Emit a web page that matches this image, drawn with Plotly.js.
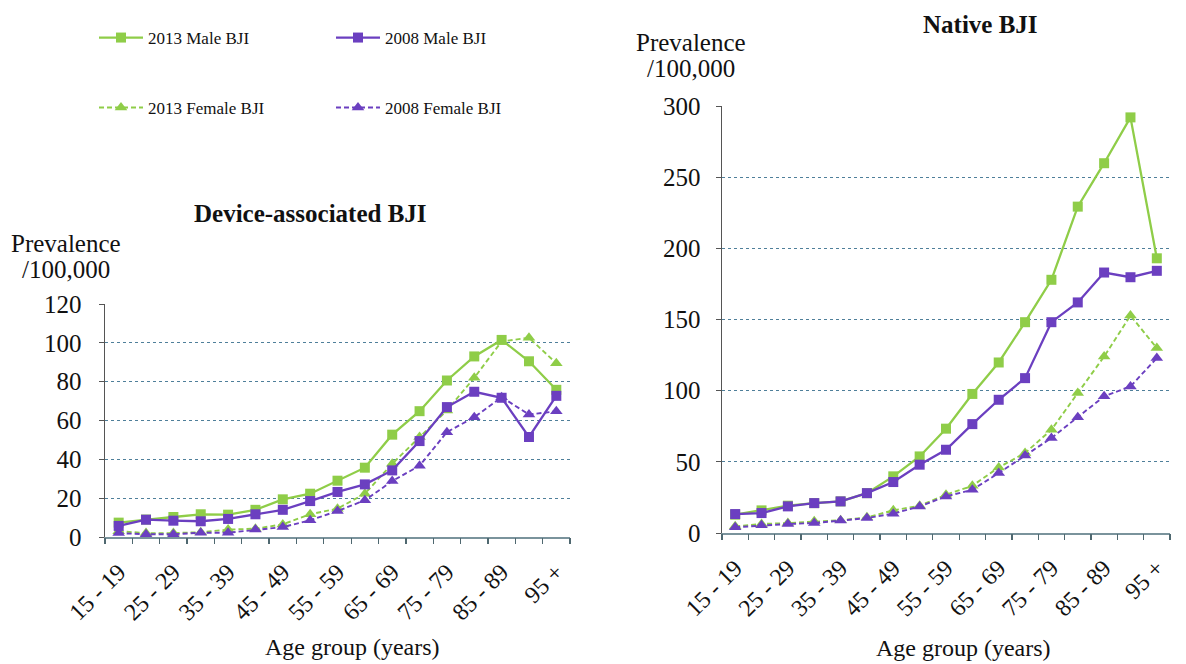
<!DOCTYPE html>
<html>
<head>
<meta charset="utf-8">
<script src="https://cdn.plot.ly/plotly-3.0.1.min.js"></script>
<style>
html,body{margin:0;padding:0;background:#fff;}
#chart{width:1186px;height:664px;}
</style>
</head>
<body>
<div id="chart"></div>
<script>
// ---- Data ----
const categories = ["15 - 19","20 - 24","25 - 29","30 - 34","35 - 39","40 - 44","45 - 49","50 - 54","55 - 59","60 - 64","65 - 69","70 - 74","75 - 79","80 - 84","85 - 89","90 - 94","95 +"];
const tickLabels = ["15 - 19","","25 - 29","","35 - 39","","45 - 49","","55 - 59","","65 - 69","","75 - 79","","85 - 89","","95 +"];

const device2013Male   = [7.4, 9, 10.3, 11.7, 11.5, 14, 19.4, 22.3, 29, 35.7, 52.7, 64.8, 80.6, 93, 101.5, 90.5, 75.8];
const device2008Male   = [5.7, 8.9, 8.4, 8.1, 9.3, 11.7, 14, 18.5, 23.2, 27.1, 34.3, 49.4, 66.9, 74.8, 71.7, 51.5, 72.7];
const device2013Female = [3, 2, 2, 2.5, 3.8, 4.3, 6.5, 11.7, 14.6, 22.3, 37.7, 51.5, 65.2, 82, 100.7, 102.6, 89.5];
const device2008Female = [2, 1.4, 1.4, 2.2, 2.2, 3.8, 5.1, 8.6, 13.4, 18.9, 28.8, 36.7, 54, 61.7, 72, 63.1, 64.7];

const native2013Male   = [12.9, 15.9, 19.2, 21, 22.2, 28, 39.8, 53.8, 73.3, 97.7, 119.8, 148.1, 177.9, 229.3, 259.8, 292, 193];
const native2008Male   = [13.3, 14, 18.7, 21, 22.2, 28, 35.8, 48, 58.5, 76.5, 93.6, 108.8, 148.1, 162, 183, 179.7, 184.2];
const native2013Female = [4.7, 6.3, 7, 8.2, 8.9, 11, 15.9, 19.2, 26.9, 33.2, 46.1, 56.2, 72.5, 98.3, 124, 152.8, 129.9];
const native2008Female = [4, 5.4, 6.3, 7, 8.7, 10.5, 13.6, 18.7, 25.7, 30.4, 42.1, 54.5, 66.7, 81.4, 96, 103, 122.9];

const seriesNames = ["2013 Male BJI", "2008 Male BJI", "2013 Female BJI", "2008 Female BJI"];
const leftTicks = [0, 20, 40, 60, 80, 100, 120];
const rightTicks = [0, 50, 100, 150, 200, 250, 300];

// ---- Styles ----
const GREEN = "#8fcd48";
const PURPLE = "#6b3fc0";
const FONT = "Liberation Serif";
const W = 1186, H = 664;
const px = v => v / W;
const py = v => 1 - v / H;

function mk(name, y, xa, ya, color, female, legendId, show) {
  return {
    type: "scatter", mode: "lines+markers",
    name: name, x: categories, y: y, xaxis: xa, yaxis: ya,
    line: {color: color, width: female ? 1.9 : 2.3, dash: female ? "5px,3px" : "solid"},
    marker: {color: color, size: female ? 11 : 10, symbol: female ? "triangle-up" : "square"},
    legend: legendId, showlegend: show, hoverinfo: "x+y+name"
  };
}

// category boundaries for tick marks (between age groups)
const boundaries = categories.map((c, i) => i - 0.5).concat([categories.length - 0.5]);

// invisible helper traces so the boundary-tick axes get drawn
function helper(xa, ya) {
  return {type: "scatter", mode: "markers", x: boundaries, y: boundaries.map(() => 0),
    xaxis: xa, yaxis: ya, marker: {opacity: 0, size: 1}, showlegend: false, hoverinfo: "skip"};
}

const data = [
  helper("x3", "y"),
  helper("x4", "y2"),
  mk(seriesNames[0], device2013Male, "x", "y", GREEN, false, "legend", true),
  mk(seriesNames[2], device2013Female, "x", "y", GREEN, true, "legend3", true),
  mk(seriesNames[1], device2008Male, "x", "y", PURPLE, false, "legend2", true),
  mk(seriesNames[3], device2008Female, "x", "y", PURPLE, true, "legend4", true),
  mk(seriesNames[0], native2013Male, "x2", "y2", GREEN, false, "legend", false),
  mk(seriesNames[2], native2013Female, "x2", "y2", GREEN, true, "legend3", false),
  mk(seriesNames[1], native2008Male, "x2", "y2", PURPLE, false, "legend2", false),
  mk(seriesNames[3], native2008Female, "x2", "y2", PURPLE, true, "legend4", false)
];

function xAxis(domain, anchor) {
  return {
    domain: domain, anchor: anchor, type: "category",
    categoryorder: "array", categoryarray: categories,
    tickmode: "array", tickvals: categories, ticktext: tickLabels,
    ticks: "", ticklabelstandoff: 10,
    showline: true, linecolor: "#7a939c", linewidth: 1.5,
    showgrid: false, zeroline: false, tickangle: -45,
    tickfont: {family: FONT, size: 24, color: "#111"},
    range: [-0.5, categories.length - 0.5], fixedrange: true
  };
}
function tickAxis(domain, anchor, overlay) {
  return {
    domain: domain, anchor: anchor, overlaying: overlay, type: "linear",
    range: [-0.5, categories.length - 0.5],
    tickmode: "array", tickvals: boundaries, showticklabels: false,
    ticks: "outside", ticklen: 6, tickcolor: "#4f6870", tickwidth: 1.3,
    showline: false, showgrid: false, zeroline: false, fixedrange: true
  };
}
function yAxis(domain, anchor, range, ticks, standoff) {
  return {
    domain: domain, anchor: anchor, range: range,
    tickmode: "array", tickvals: ticks,
    ticks: "outside", ticklen: 5, tickcolor: "#555", tickwidth: 1,
    ticklabelstandoff: standoff,
    showline: true, linecolor: "#555", linewidth: 1.5,
    showgrid: true, gridcolor: "#4f7f9a", griddash: "dot", gridwidth: 1.3,
    zeroline: false,
    tickfont: {family: FONT, size: 25, color: "#111"}, fixedrange: true
  };
}

function legendAt(x, y) {
  return {x: px(x), y: py(y), xanchor: "left", yanchor: "middle",
    bgcolor: "rgba(0,0,0,0)", borderwidth: 0, itemwidth: 44,
    font: {family: FONT, size: 17, color: "#111"}};
}

const ann = (text, x, y, size, bold) => ({
  text: bold ? "<b>" + text + "</b>" : text,
  x: px(x), y: py(y), xref: "paper", yref: "paper",
  xanchor: "center", yanchor: "middle", showarrow: false,
  font: {family: FONT, size: size, color: "#111"}
});

const leftX = [px(105), px(570)];
const rightX = [px(722), px(1170)];

const layout = {
  width: W, height: H,
  margin: {l: 0, r: 0, t: 0, b: 0},
  paper_bgcolor: "#fff", plot_bgcolor: "#fff",
  xaxis: xAxis(leftX, "y"),
  yaxis: yAxis([1 - 537 / H, 1 - 304 / H], "x", [0, 120], leftTicks, 12),
  xaxis2: xAxis(rightX, "y2"),
  yaxis2: yAxis([1 - 533 / H, 1 - 106 / H], "x2", [0, 300], rightTicks, 10),
  xaxis3: tickAxis(leftX, "y", "x"),
  xaxis4: tickAxis(rightX, "y2", "x2"),
  legend: legendAt(94, 38),
  legend2: legendAt(331, 38),
  legend3: legendAt(94, 108),
  legend4: legendAt(331, 108),
  annotations: [
    ann("Device-associated BJI", 310, 213, 25, true),
    ann("Native BJI", 980, 24, 25, true),
    ann("Prevalence", 66, 243, 25, false),
    ann("/100,000", 66, 270, 25, false),
    ann("Prevalence", 691, 42, 25, false),
    ann("/100,000", 691, 69, 25, false),
    ann("Age group (years)", 352, 647, 24, false),
    ann("Age group (years)", 963, 648, 24, false)
  ],
  showlegend: true
};

Plotly.newPlot("chart", data, layout, {displayModeBar: false, staticPlot: true});
</script>
</body>
</html>
